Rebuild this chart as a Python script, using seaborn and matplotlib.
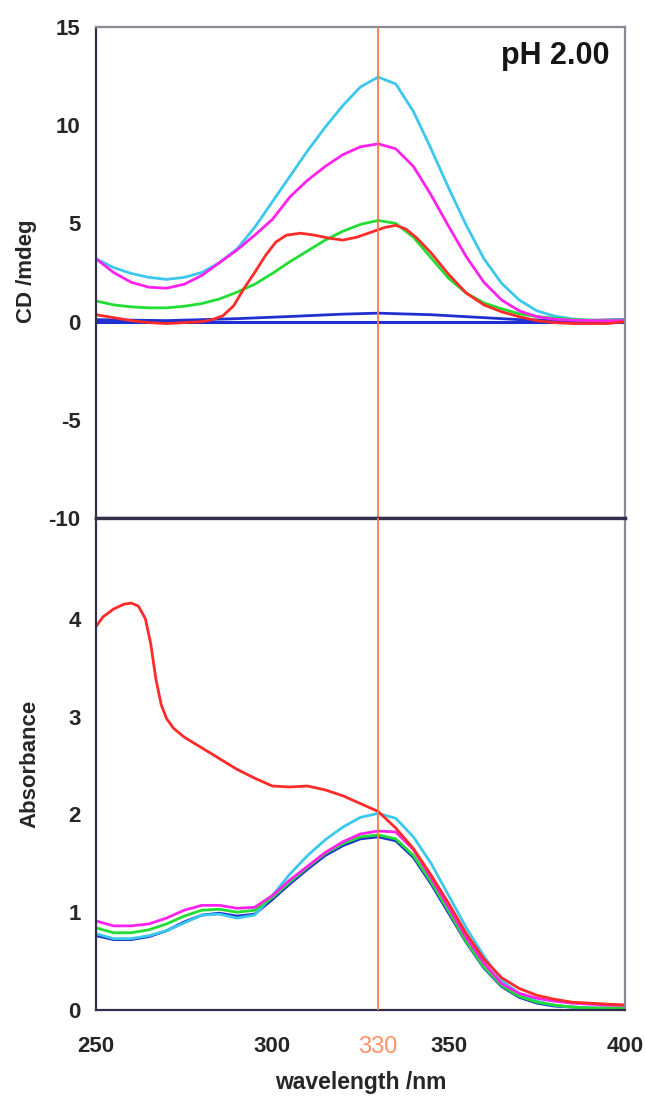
import numpy as np
import pandas as pd
import matplotlib
matplotlib.use("Agg")
import matplotlib.pyplot as plt
import seaborn as sns

# ── DATA ────────────────────────────────────────────────────────────
wl = [250, 255, 260, 265, 270, 275, 280, 285, 290, 295, 300, 305, 310, 315, 320,
      325, 330, 335, 340, 345, 350, 355, 360, 365, 370, 375, 380, 385, 390, 395, 400]

# CD spectra (mdeg)
cd_cyan = [3.2, 2.75, 2.45, 2.25, 2.15, 2.25, 2.5, 3.0, 3.7, 4.8, 6.1, 7.4, 8.7, 9.9, 11.0,
           11.95, 12.45, 12.1, 10.7, 8.8, 6.8, 4.9, 3.2, 1.95, 1.1, 0.55, 0.28, 0.14, 0.07, 0.04, 0.1]
cd_magenta = [3.2, 2.5, 2.0, 1.75, 1.7, 1.9, 2.35, 3.0, 3.65, 4.4, 5.2, 6.35, 7.2, 7.9, 8.5,
              8.9, 9.05, 8.8, 7.9, 6.45, 4.85, 3.3, 2.0, 1.1, 0.55, 0.25, 0.12, 0.07, 0.05, 0.04, 0.05]
cd_green = [1.05, 0.85, 0.75, 0.7, 0.7, 0.78, 0.92, 1.15, 1.5, 1.9, 2.45, 3.05, 3.6, 4.15, 4.6,
            4.95, 5.15, 5.0, 4.3, 3.25, 2.2, 1.45, 0.95, 0.65, 0.4, 0.26, 0.17, 0.1, 0.07, 0.05, 0.05]
cd_red_wl = [250, 255, 260, 265, 270, 275, 280, 283, 286, 289, 292, 295, 298, 301, 304, 308,
             312, 316, 320, 324, 328, 332, 335, 338, 341, 345, 350, 355, 360, 365, 370, 375,
             380, 385, 390, 395, 400]
cd_red = [0.35, 0.2, 0.05, -0.05, -0.1, -0.05, 0.0, 0.1, 0.3, 0.8, 1.7, 2.5, 3.35, 4.05, 4.4, 4.5,
          4.4, 4.25, 4.15, 4.3, 4.55, 4.8, 4.9, 4.7, 4.25, 3.5, 2.4, 1.45, 0.85, 0.5, 0.25, 0.05,
          -0.05, -0.1, -0.1, -0.1, 0.0]
cd_blue_wl = [250, 270, 290, 305, 320, 330, 345, 360, 370, 385, 400]
cd_blue = [0.1, 0.05, 0.15, 0.26, 0.38, 0.43, 0.35, 0.2, 0.1, 0.05, 0.1]

# absorbance spectra
abs_cyan = [0.78, 0.73, 0.73, 0.76, 0.81, 0.89, 0.97, 0.98, 0.94, 0.97, 1.17, 1.39, 1.58, 1.74, 1.87,
            1.97, 2.01, 1.96, 1.77, 1.50, 1.17, 0.84, 0.55, 0.30, 0.17, 0.09, 0.05, 0.03, 0.02, 0.01, 0.01]
abs_magenta = [0.91, 0.86, 0.86, 0.88, 0.94, 1.02, 1.07, 1.07, 1.04, 1.05, 1.17, 1.33, 1.47, 1.61, 1.72,
               1.80, 1.83, 1.82, 1.64, 1.35, 1.05, 0.74, 0.48, 0.27, 0.17, 0.12, 0.09, 0.07, 0.06, 0.05, 0.05]
abs_green = [0.84, 0.79, 0.79, 0.82, 0.88, 0.96, 1.02, 1.03, 1.0, 1.02, 1.15, 1.31, 1.46, 1.60, 1.70,
             1.77, 1.79, 1.75, 1.58, 1.31, 1.01, 0.70, 0.44, 0.25, 0.14, 0.08, 0.05, 0.03, 0.02, 0.02, 0.02]
abs_blue = [0.76, 0.72, 0.72, 0.75, 0.81, 0.9, 0.97, 0.99, 0.96, 0.98, 1.13, 1.29, 1.44, 1.58, 1.68,
            1.75, 1.77, 1.73, 1.56, 1.29, 0.99, 0.69, 0.43, 0.24, 0.13, 0.07, 0.04, 0.03, 0.02, 0.02, 0.02]
abs_red_wl = [250, 252, 255, 258, 260, 262, 264, 265.5, 267, 268.5, 270, 272, 275, 280, 285, 290,
              295, 300, 305, 310, 315, 320, 325, 330, 335, 340, 345, 350, 355, 360, 365, 370, 375,
              380, 385, 390, 395, 400]
abs_red = [3.92, 4.02, 4.10, 4.15, 4.16, 4.13, 4.0, 3.75, 3.38, 3.12, 2.98, 2.88, 2.79, 2.68, 2.57,
           2.46, 2.37, 2.29, 2.28, 2.29, 2.25, 2.19, 2.11, 2.03, 1.86, 1.65, 1.38, 1.09, 0.78, 0.52,
           0.33, 0.22, 0.15, 0.11, 0.08, 0.07, 0.06, 0.05]

x_ticks = [250, 300, 330, 350, 400]
x_ticklabels = ["250", "300", "330", "350", "400"]
cd_ticks = [15, 10, 5, 0, -5, -10]
abs_ticks = [0, 1, 2, 3, 4]
marker_wl = 330

C_CYAN = "#3cc8ee"
C_MAGENTA = "#ff22ee"
C_GREEN = "#22dd33"
C_RED = "#ff2a2a"
C_BLUE = "#2030d0"
C_ORANGE = "#ff7a45"
C_LABEL330 = "#ff9068"
C_AXIS = "#30304a"
C_FRAME = "#8a8a96"

# ── STYLE ───────────────────────────────────────────────────────────
sns.set_style("white")
plt.rcParams['font.family'] = ['Liberation Sans', 'DejaVu Sans']

fig = plt.figure(figsize=(6.46, 10.97), dpi=100)
ax1 = fig.add_axes([0.1486, 0.5278, 0.8189, 0.4476])
ax2 = fig.add_axes([0.1486, 0.0793, 0.8189, 0.4485])

LW = 2.0

# ── TOP: CD ─────────────────────────────────────────────────────────
ax1.axhline(0, color=C_BLUE, lw=2.2, zorder=1)
sns.lineplot(x=cd_blue_wl, y=cd_blue, color=C_BLUE, lw=LW, ax=ax1)
sns.lineplot(x=wl, y=cd_cyan, color=C_CYAN, lw=LW, ax=ax1)
sns.lineplot(x=wl, y=cd_green, color=C_GREEN, lw=LW, ax=ax1)
sns.lineplot(x=wl, y=cd_magenta, color=C_MAGENTA, lw=LW, ax=ax1)
sns.lineplot(x=cd_red_wl, y=cd_red, color=C_RED, lw=LW, ax=ax1)
ax1.axvline(marker_wl, color=C_ORANGE, lw=1.3, zorder=5)

ax1.set_xlim(250, 400)
ax1.set_ylim(-10, 15)
ax1.set_yticks(cd_ticks)
ax1.set_yticklabels([str(t) for t in cd_ticks])
ax1.set_xticks([])
ax1.set_ylabel("CD /mdeg", fontsize=16, fontweight='bold')
ax1.yaxis.set_label_coords(-0.112, 0.503)
ax1.text(395.5, 13.5, "pH 2.00", ha='right', va='center', fontsize=22,
         fontweight='bold', color="#151515")

# ── BOTTOM: ABSORBANCE ──────────────────────────────────────────────
sns.lineplot(x=wl, y=abs_blue, color=C_BLUE, lw=LW, ax=ax2)
sns.lineplot(x=wl, y=abs_cyan, color=C_CYAN, lw=LW, ax=ax2)
sns.lineplot(x=wl, y=abs_green, color=C_GREEN, lw=LW, ax=ax2)
sns.lineplot(x=wl, y=abs_magenta, color=C_MAGENTA, lw=LW, ax=ax2)
sns.lineplot(x=abs_red_wl, y=abs_red, color=C_RED, lw=LW, ax=ax2)
ax2.axvline(marker_wl, color=C_ORANGE, lw=1.3, zorder=5)

ax2.set_xlim(250, 400)
ax2.set_ylim(0, 5.03)
ax2.set_yticks(abs_ticks)
ax2.set_yticklabels([str(t) for t in abs_ticks])
ax2.set_xticks(x_ticks)
ax2.set_xticklabels(x_ticklabels)
ax2.set_ylabel("Absorbance", fontsize=16, fontweight='bold')
ax2.yaxis.set_label_coords(-0.105, 0.501)
ax2.set_xlabel("wavelength /nm", fontsize=16.5, fontweight='bold', labelpad=9)

for ax in (ax1, ax2):
    for s in ax.spines.values():
        s.set_color(C_AXIS)
        s.set_linewidth(1.6)
    ax.spines['right'].set_color(C_FRAME)
    ax.tick_params(direction='in', length=5, width=1.3, color=C_AXIS,
                   labelsize=16, pad=11)
    for lab in ax.get_yticklabels():
        lab.set_fontweight('bold')
ax1.spines['top'].set_color(C_FRAME)
ax1.spines['bottom'].set_linewidth(2.4)
ax2.spines['top'].set_linewidth(2.4)

for lab in ax2.get_xticklabels():
    if lab.get_text() == "330":
        lab.set_color(C_LABEL330)
        lab.set_fontweight('normal')
        lab.set_fontsize(17)
    else:
        lab.set_fontweight('bold')
ax2.tick_params(axis='x', pad=19)
# hide tick marks at the axis ends and at 330
for t, val in zip(ax2.xaxis.get_major_ticks(), x_ticks):
    if val in (250, 330, 400):
        t.tick1line.set_visible(False)
for t, val in zip(ax1.yaxis.get_major_ticks(), cd_ticks):
    if val in (15, -10, 0):
        t.tick1line.set_visible(False)

plt.savefig("out.png", dpi=100)
